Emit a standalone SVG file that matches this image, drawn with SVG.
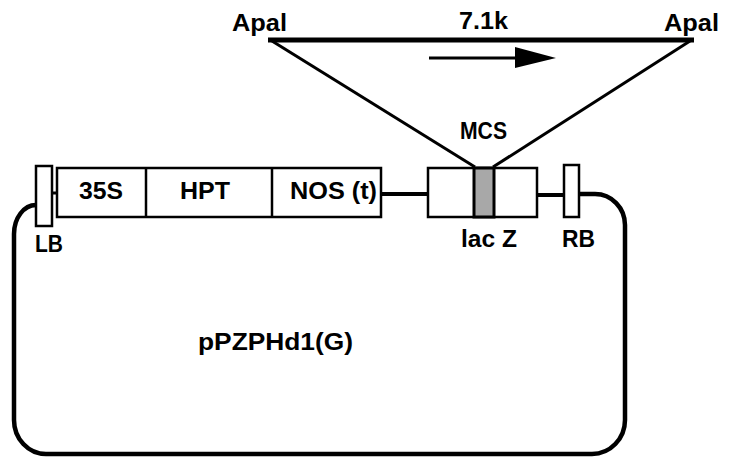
<svg xmlns="http://www.w3.org/2000/svg" width="735" height="458" viewBox="0 0 735 458">
<style>
.t{font-family:"Liberation Sans",Arial,Helvetica,sans-serif;font-weight:bold;font-size:23px;fill:#000}
.box{fill:#fff;stroke:#000;stroke-width:2.5}
.ln{fill:none;stroke:#000;stroke-linecap:butt}
</style>
<rect width="735" height="458" fill="#fff"/>
<g id="connectors">
  <path class="ln" stroke-width="4.5" d="M579,194 L595,194 A30,31 0 0 1 625,225 L625,420 A33,34 0 0 1 592,454 L46,454 A32,34 0 0 1 14,420 L14,234 A22,29 0 0 1 36,205"/>
  <line class="ln" x1="52" y1="193" x2="57" y2="193" stroke-width="3"/>
  <line class="ln" x1="381" y1="194" x2="428" y2="194" stroke-width="4"/>
  <line class="ln" x1="537" y1="195" x2="564" y2="195" stroke-width="4"/>
  <line class="ln" x1="268" y1="40" x2="694" y2="40" stroke-width="5"/>
  <line class="ln" x1="272" y1="41" x2="475" y2="167" stroke-width="3"/>
  <line class="ln" x1="690" y1="41" x2="493" y2="167" stroke-width="3"/>
  <line class="ln" x1="429" y1="58" x2="518" y2="58" stroke-width="3"/>
  <polygon points="515,47 556,58 515,68" fill="#000"/>
</g>
<g id="LB">
  <rect class="box" x="36" y="166" width="16" height="60"/>
  <text class="t" x="35" y="252" textLength="28" lengthAdjust="spacingAndGlyphs">LB</text>
</g>
<g id="cassette">
  <rect class="box" x="57" y="168" width="324" height="49"/>
  <line x1="146" y1="168" x2="146" y2="217" stroke="#000" stroke-width="2.5"/>
  <line x1="272" y1="168" x2="272" y2="217" stroke="#000" stroke-width="2.5"/>
  <text class="t" x="79" y="199" textLength="44" lengthAdjust="spacingAndGlyphs">35S</text>
  <text class="t" x="180" y="199" textLength="50" lengthAdjust="spacingAndGlyphs">HPT</text>
  <text class="t" x="290" y="199" textLength="87" lengthAdjust="spacingAndGlyphs">NOS (t)</text>
</g>
<g id="lacZ">
  <rect class="box" x="428" y="168" width="109" height="49"/>
  <rect x="474" y="168" width="20" height="49" fill="#a8a8a8" stroke="#000" stroke-width="3"/>
  <text class="t" x="461" y="247" textLength="56" lengthAdjust="spacingAndGlyphs">lac Z</text>
  <text class="t" x="460" y="139" font-size="20" textLength="47" lengthAdjust="spacingAndGlyphs">MCS</text>
</g>
<g id="RB">
  <rect class="box" x="564" y="165" width="15" height="52"/>
  <text class="t" x="562" y="247" textLength="33" lengthAdjust="spacingAndGlyphs">RB</text>
</g>
<g id="insert">
  <text class="t" x="232" y="31" font-size="26" textLength="55" lengthAdjust="spacingAndGlyphs">Apal</text>
  <text class="t" x="459" y="29" font-size="25" textLength="49" lengthAdjust="spacingAndGlyphs">7.1k</text>
  <text class="t" x="664" y="31" font-size="26" textLength="55" lengthAdjust="spacingAndGlyphs">Apal</text>
</g>
<g id="plasmid">
  <text class="t" x="198" y="350" font-size="28" textLength="155" lengthAdjust="spacingAndGlyphs">pPZPHd1(G)</text>
</g>
</svg>
